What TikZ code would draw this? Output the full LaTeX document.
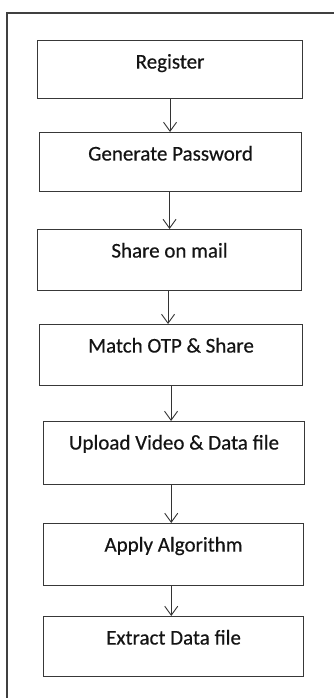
\documentclass[tikz,border=0pt]{standalone}
\usepackage{fontspec}
\setmainfont{Carlito}[FakeBold=0.4]
\usetikzlibrary{arrows.meta}
\begin{document}
\begin{tikzpicture}[x=1pt,y=-1pt,
  stepbox/.style={draw=black!78, line width=1.1pt, anchor=north west, inner xsep=0pt, inner ysep=0pt,
    text height=28pt, font=\fontsize{21}{25}\selectfont, text=black!92},
  arr/.style={draw=black!80, line width=0.9pt, -{Straight Barb[length=9pt,width=13pt,line width=0.9pt]}},
  frame/.style={draw=black!75, line width=1.1pt}]
\useasboundingbox (0,0) rectangle (334,698);
\fill[white] (0,0) rectangle (334,698);
\draw[frame] (7,700) -- (7,13) -- (336,13);
\node[stepbox, minimum width=265pt, text depth=30pt] (b1) at (37,40) {Register};
\node[stepbox, minimum width=262pt, text depth=31pt] (b2) at (39,132) {Generate Password};
\node[stepbox, minimum width=264pt, text depth=33pt] (b3) at (37,229) {Share on mail};
\node[stepbox, minimum width=263pt, text depth=33pt] (b4) at (39,324) {Match OTP \& Share};
\node[stepbox, minimum width=261pt, text depth=35pt] (b5) at (43,421) {Upload Video \& Data file};
\node[stepbox, minimum width=260pt, text depth=34pt] (b6) at (43,523) {Apply Algorithm};
\node[stepbox, minimum width=260pt, text depth=32pt] (b7) at (43,616) {Extract Data file};
\draw[arr] (b1.south) -- (b1.south |- b2.north);
\draw[arr] ([xshift=-1pt]b2.south) -- ([xshift=-1pt]b2.south |- b3.north);
\draw[arr] ([xshift=-1.5pt]b3.south) -- ([xshift=-1.5pt]b3.south |- b4.north);
\draw[arr] (b4.south) -- (b4.south |- b5.north);
\draw[arr] ([xshift=-2.8pt]b5.south) -- ([xshift=-2.8pt]b5.south |- b6.north);
\draw[arr] ([xshift=-2.3pt]b6.south) -- ([xshift=-2.3pt]b6.south |- b7.north);
\end{tikzpicture}
\end{document}
